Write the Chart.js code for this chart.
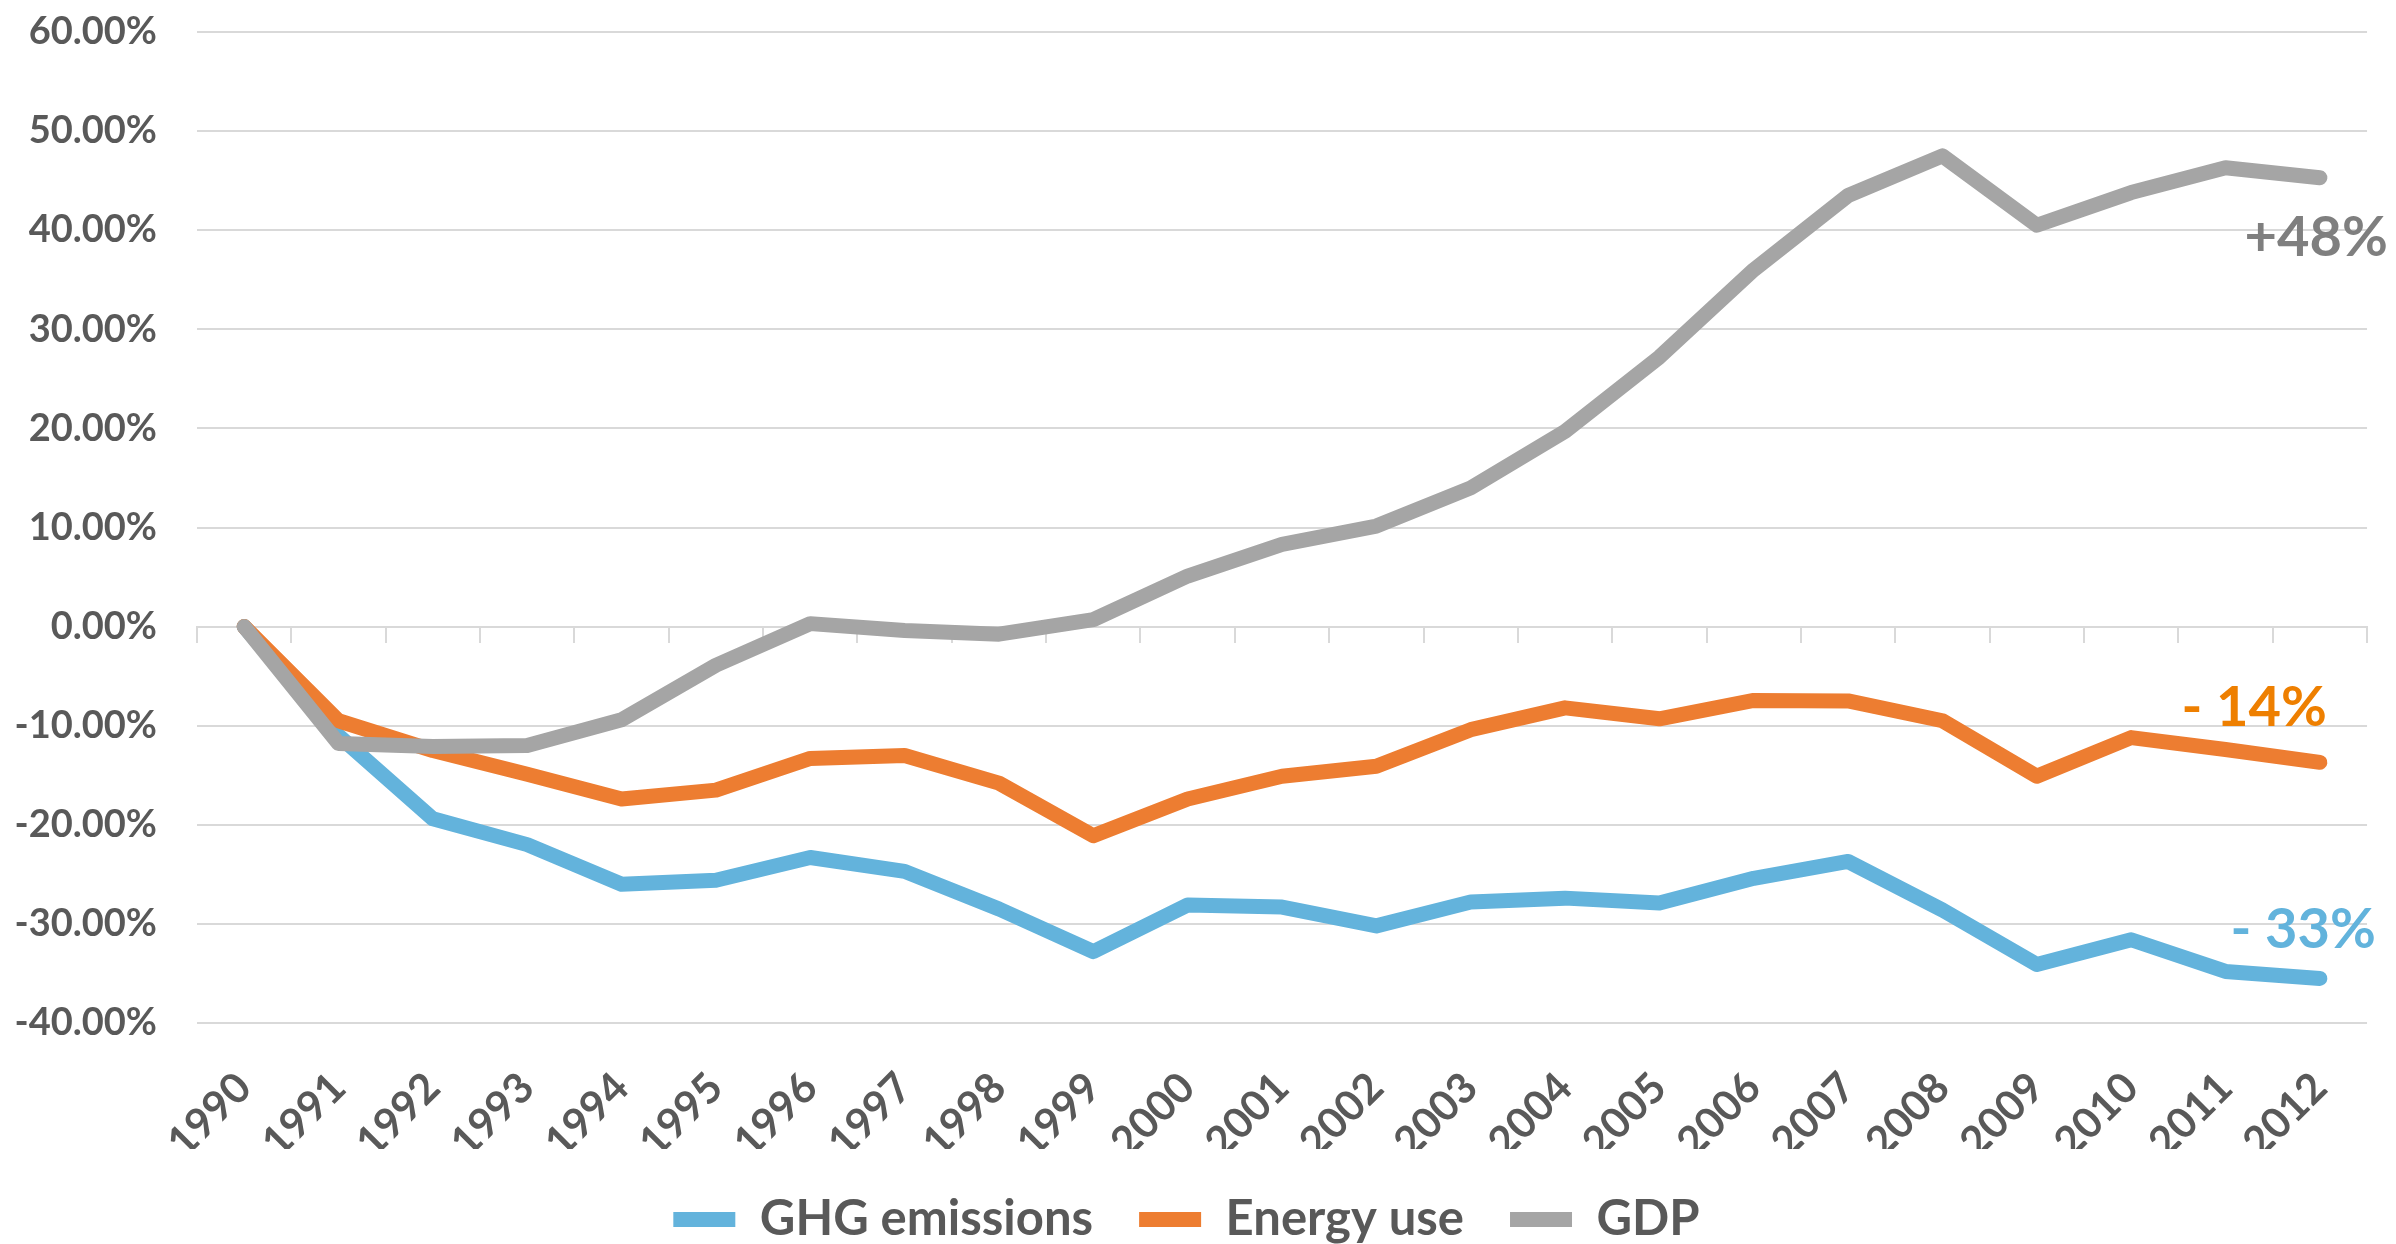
<!DOCTYPE html>
<html>
<head>
<meta charset="utf-8">
<title>GHG emissions, energy use and GDP</title>
<script src="https://cdn.jsdelivr.net/npm/chart.js@4.4.1/dist/chart.umd.min.js"></script>
<style>
  html, body { margin: 0; padding: 0; background: #fff; overflow: hidden; }
  canvas { display: block; }
</style>
</head>
<body>
<canvas id="trendChart" width="2396" height="1244"></canvas>
<script>
// change vs 1990, in percent
const years = ['1990', '1991', '1992', '1993', '1994', '1995', '1996', '1997', '1998', '1999', '2000',
  '2001', '2002', '2003', '2004', '2005', '2006', '2007', '2008', '2009', '2010', '2011', '2012'];
const ghgValues = [0, -11.0, -19.4, -22.0, -26.0, -25.6, -23.3, -24.7, -28.5, -32.8, -28.1,
  -28.3, -30.2, -27.8, -27.4, -27.9, -25.4, -23.7, -28.6, -34.1, -31.6, -34.8, -35.5];
const energyValues = [0, -9.5, -12.5, -14.9, -17.4, -16.5, -13.3, -13.0, -15.8, -21.1, -17.4,
  -15.1, -14.1, -10.4, -8.2, -9.3, -7.45, -7.5, -9.5, -15.1, -11.2, -12.4, -13.7];
const gdpValues = [0, -11.8, -12.1, -12.0, -9.4, -3.9, 0.3, -0.4, -0.76, 0.7, 5.1,
  8.3, 10.15, 14.0, 19.7, 27.2, 36.0, 43.5, 47.5, 40.5, 43.8, 46.3, 45.3];
const seriesNames = ['GHG emissions', 'Energy use', 'GDP'];
const endLabels = ['- 33%', '- 14%', '+48%'];

const FONT = 'Lato';
const TEXT = '#595959';
const GRID = '#D9D9D9';

// text at the end of each line, offset from the last point
const endLabelPlugin = {
  id: 'endLabels',
  afterDatasetsDraw(chart, args, opts) {
    const ctx = chart.ctx;
    ctx.save();
    ctx.font = `bold ${opts.size}px ${FONT}`;
    ctx.textAlign = 'right';
    ctx.textBaseline = 'alphabetic';
    chart.data.datasets.forEach((ds, i) => {
      const pts = chart.getDatasetMeta(i).data;
      const last = pts[pts.length - 1];
      ctx.fillStyle = opts.colors[i];
      ctx.fillText(endLabels[i], last.x + opts.offsets[i][0], last.y + opts.offsets[i][1]);
    });
    ctx.restore();
  }
};

function lineSet(label, data, color, order) {
  return {
    label,
    data,
    borderColor: color,
    backgroundColor: color,
    borderWidth: 15,
    borderCapStyle: 'round',
    borderJoinStyle: 'round',
    pointRadius: 0,
    tension: 0,
    fill: false,
    order
  };
}

const ctx = document.getElementById('trendChart').getContext('2d');
new Chart(ctx, {
  type: 'line',
  data: {
    labels: years,
    datasets: [
      lineSet(seriesNames[0], ghgValues, '#63B3DC', 3),
      lineSet(seriesNames[1], energyValues, '#ED7D31', 2),
      lineSet(seriesNames[2], gdpValues, '#A5A5A5', 1)
    ]
  },
  options: {
    responsive: false,
    animation: false,
    devicePixelRatio: 1,
    layout: { padding: { top: 0, left: 0, right: 23, bottom: -10 } },
    plugins: {
      tooltip: { enabled: false },
      legend: {
        position: 'bottom',
        labels: {
          font: { family: FONT, size: 49, weight: 'bold' },
          color: TEXT,
          usePointStyle: true,
          pointStyle: 'line',
          pointStyleWidth: 62,
          padding: 46,
          sort: (a, b) => a.datasetIndex - b.datasetIndex
        }
      },
      endLabels: {
        size: 56,
        colors: ['#62B3DC', '#EE7F00', '#7F7F7F'],
        offsets: [[56, -30], [7, -36], [68, 78]]
      }
    },
    scales: {
      x: {
        type: 'category',
        offset: true,
        grid: { display: false, drawTicks: false },
        border: { display: false },
        ticks: {
          autoSkip: false,
          minRotation: 45,
          maxRotation: 45,
          padding: 40,
          color: TEXT,
          font: { family: FONT, size: 42, weight: 'bold' }
        },
        afterFit: scale => { scale.height = 126; }
      },
      x0: {
        type: 'category',
        position: { y: 0 },
        offset: true,
        grid: { drawOnChartArea: false, offset: true, tickLength: 15, color: GRID, lineWidth: 2 },
        border: { color: GRID, width: 2 },
        ticks: { display: false }
      },
      y: {
        min: -40,
        max: 60,
        ticks: {
          stepSize: 10,
          padding: 40,
          color: TEXT,
          font: { family: FONT, size: 38, weight: 'bold' },
          callback: v => v.toFixed(2) + '%'
        },
        grid: { color: GRID, lineWidth: 2, drawTicks: false },
        border: { display: false },
        afterFit: scale => {
          scale.width = 197;
          scale.paddingTop = 32;
          scale.paddingBottom = 32;
        }
      }
    }
  },
  plugins: [endLabelPlugin]
});
</script>
</body>
</html>
